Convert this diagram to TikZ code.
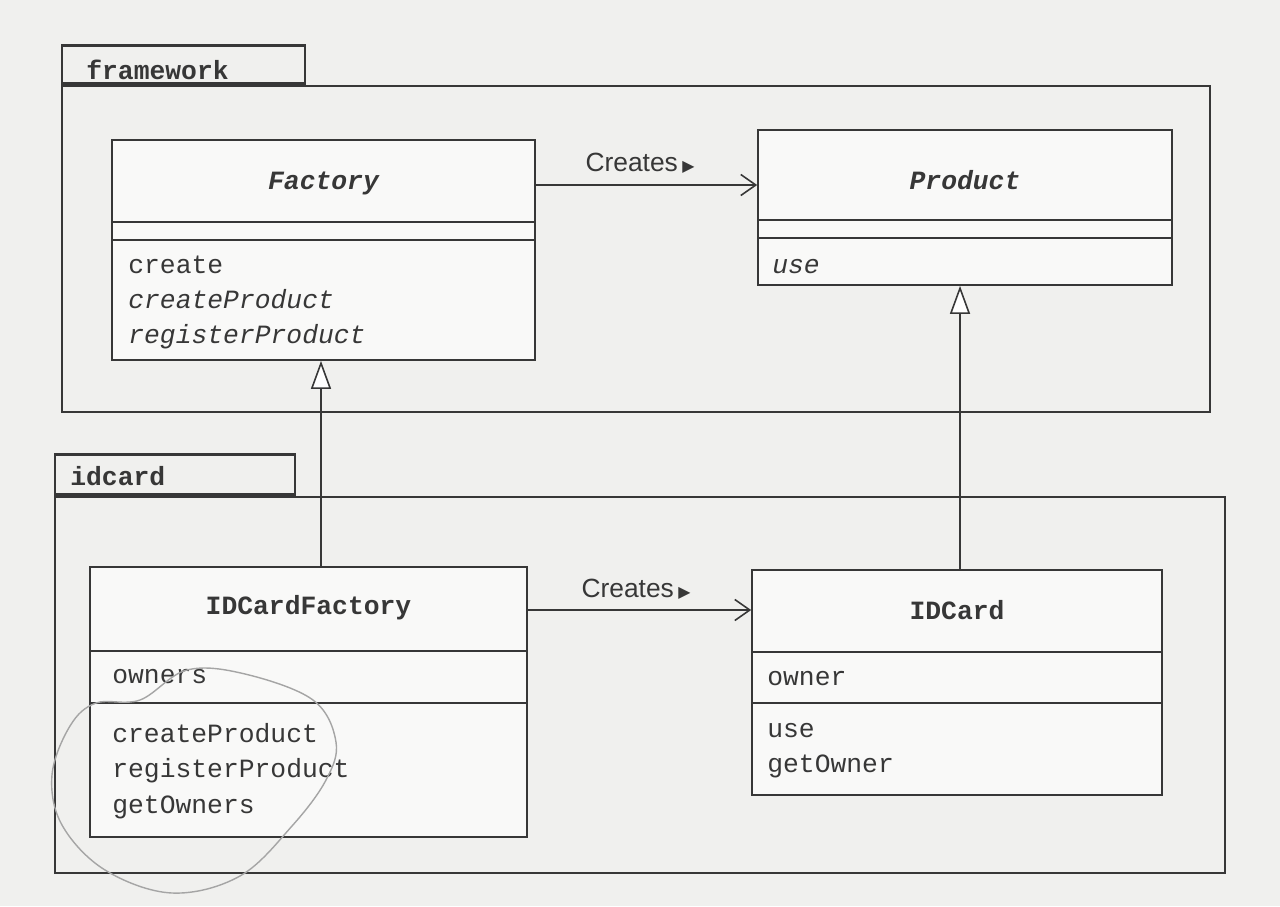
\documentclass[tikz,border=0pt]{standalone}
\usepackage{fontspec}
\setmainfont{Liberation Serif}
\newfontfamily\umlmono{Liberation Mono}
\newfontfamily\umlsans{Liberation Sans}
\newfontfamily\umlsym{DejaVu Sans}
\usetikzlibrary{arrows.meta}
\definecolor{bgcol}{RGB}{240,240,238}
\definecolor{linecol}{RGB}{55,55,55}
\definecolor{txtcol}{RGB}{55,55,55}
\definecolor{pencil}{RGB}{165,165,165}
\tikzset{
  pkg/.style={draw=linecol, line width=1.4pt, inner sep=0pt},
  cls/.style={draw=linecol, line width=1pt, fill=white!60!bgcol, inner sep=0pt},
  divider/.style={draw=linecol, line width=1pt},
  member/.style={anchor=base west, inner sep=0pt, text=txtcol, font=\umlmono\fontsize{15}{18}\selectfont},
  clsname/.style={inner sep=0pt, text=txtcol, font=\umlmono\bfseries\fontsize{15}{18}\selectfont},
  pkgname/.style={anchor=west, inner sep=0pt, text=txtcol, font=\umlmono\bfseries\fontsize{15}{18}\selectfont},
  rel/.style={inner sep=0pt, text=txtcol, font=\umlsans\fontsize{15}{18}\selectfont},
  creates/.style={draw=linecol, line width=0.9pt, -{Straight Barb[length=3mm,width=4.2mm]}},
  gen/.style={draw=linecol, line width=0.9pt, -{Triangle[open,length=5.6mm,width=4mm,fill=white]}},
}
\begin{document}
\begin{tikzpicture}[x=0.02cm,y=-0.02cm]
\fill[bgcol] (0,0) rectangle (1280,906);
\useasboundingbox (0,0) rectangle (1280,906);

% ---------- package framework ----------
\node[pkg, minimum width=22.96cm, minimum height=6.52cm] (fwbody) at (636,249) {};
\node[pkg, minimum width=4.86cm, minimum height=0.76cm, anchor=south west] (fwtab) at (fwbody.north west) {};
\node[pkgname] (fwlabel) at (86,70) {framework};

% Factory
\node[cls, minimum width=8.46cm, minimum height=4.4cm] (factory) at (323.5,250) {};
\draw[divider] (112,222) -- (535,222);
\draw[divider] (112,240) -- (535,240);
\node[clsname, font=\umlmono\bfseries\itshape\fontsize{15}{18}\selectfont] (factoryname) at (323.5,183) {Factory};
\node[member] (fcreate) at (128,273) {create};
\node[member, font=\umlmono\itshape\fontsize{15}{18}\selectfont] (fcreateP) at (128,308) {createProduct};
\node[member, font=\umlmono\itshape\fontsize{15}{18}\selectfont] (fregP) at (128,343) {registerProduct};

% Product
\node[cls, minimum width=8.28cm, minimum height=3.1cm] (product) at (965,207.5) {};
\draw[divider] (758,220) -- (1172,220);
\draw[divider] (758,238) -- (1172,238);
\node[clsname, font=\umlmono\bfseries\itshape\fontsize{15}{18}\selectfont] (productname) at (965,180) {Product};
\node[member, font=\umlmono\itshape\fontsize{15}{18}\selectfont] (puse) at (772,273) {use};

% ---------- package idcard ----------
\node[pkg, minimum width=23.4cm, minimum height=7.52cm] (idbody) at (640,685) {};
\node[pkg, minimum width=4.8cm, minimum height=0.8cm, anchor=south west] (idtab) at (idbody.north west) {};
\node[pkgname] (idlabel) at (70,476) {idcard};

% IDCardFactory
\node[cls, minimum width=8.74cm, minimum height=5.4cm] (idfactory) at (308.5,702) {};
\draw[divider] (90,651) -- (527,651);
\draw[divider] (90,703) -- (527,703);
\node[clsname] (idfactoryname) at (308.5,608) {IDCardFactory};
\node[member] (iowners) at (112,683) {owners};
\node[member] (icreateP) at (112,742) {createProduct};
\node[member] (iregP) at (112,777) {registerProduct};
\node[member] (igetO) at (112,813) {getOwners};

% IDCard
\node[cls, minimum width=8.2cm, minimum height=4.5cm] (idcardcls) at (957,682.5) {};
\draw[divider] (752,652) -- (1162,652);
\draw[divider] (752,703) -- (1162,703);
\node[clsname] (idcardname) at (957,610) {IDCard};
\node[member] (cowner) at (767,685) {owner};
\node[member] (cuse) at (767,737) {use};
\node[member] (cgetO) at (767,772) {getOwner};

% ---------- relations ----------
\coordinate (y1) at (0,185);
\coordinate (y2) at (0,610);
\coordinate (g1) at (321,0);
\coordinate (g2) at (960,0);

\draw[creates] (factory.east |- y1) -- (product.west |- y1);
\node[rel] (cr1) at (640,163) {Creates\,{\umlsym\fontsize{9}{12}\selectfont ▶}};
\draw[creates] (idfactory.east |- y2) -- (idcardcls.west |- y2);
\node[rel] (cr2) at (636,589) {Creates\,{\umlsym\fontsize{9}{12}\selectfont ▶}};

\draw[gen] (idfactory.north -| g1) -- (factory.south -| g1);
\draw[gen] (idcardcls.north -| g2) -- (product.south -| g2);

% pencil loop
\draw[pencil, line width=0.8pt] plot[smooth cycle, tension=0.6] coordinates {
 (187,670) (245,674) (313,700) (336,742) (326,780) (292,826) (240,876) (172,893)
 (105,870) (62,825) (52,775) (70,726) (96,703) (140,700)};
\end{tikzpicture}
\end{document}
